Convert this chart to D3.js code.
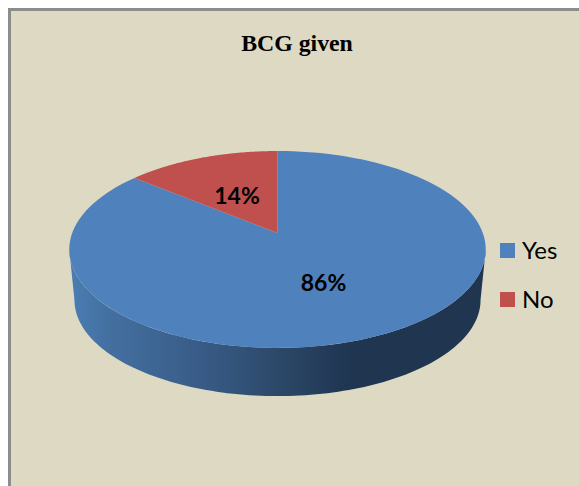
<!DOCTYPE html>
<html>
<head>
<meta charset="utf-8">
<script src="https://cdn.jsdelivr.net/npm/d3@7"></script>
<style>
  html, body { margin: 0; padding: 0; background: #fff; overflow: hidden; }
  svg { display: block; }
</style>
</head>
<body>
<svg></svg>
<script>
const categories = ["Yes", "No"];
const values = [86, 14];
const labels = ["86%", "14%"];
const title = "BCG given";

const svg = d3.select("svg").attr("width", 579).attr("height", 486);
const colors = d3.scaleOrdinal().domain(categories).range(["#4f81bd", "#c0504d"]);

// frame
svg.append("rect").attr("x", 9.5).attr("y", 9.5).attr("width", 600).attr("height", 500)
  .attr("fill", "#ddd9c3").attr("stroke", "#8c8c8c").attr("stroke-width", 3);

svg.append("text").text(title)
  .attr("x", 297).attr("y", 51).attr("text-anchor", "middle")
  .attr("font-family", "'Liberation Serif'").attr("font-weight", "bold").attr("font-size", 23.8)
  .attr("fill", "#000");

// the pie is tilted with perspective, so the centre is not the middle of the ellipse
const persp = -0.1675;
const project = (a, z = 0) => {
  const u = Math.sin(a), v = -Math.cos(a);
  const d = 1 + persp * v;
  const sx = z ? 0.975 : 1;
  return [277.5 + sx * 205.3 * u / d, 233 + z * 51 + sx * 95.7 * v / d];
};

const slices = d3.pie().sort(null).startAngle(0).endAngle(2 * Math.PI)(values);
const line = d3.line();
const sweep = (a0, a1, z) => d3.range(0, 121).map(i => project(a0 + (a1 - a0) * i / 120, z));

// side wall, from the right extreme round the bottom to the left extreme
const defs = svg.append("defs");
const grad = defs.append("linearGradient").attr("id", "wall")
  .attr("gradientUnits", "userSpaceOnUse").attr("x1", 70).attr("x2", 486).attr("y1", 0).attr("y2", 0);
[[0, "#4a7cb4"], [0.1, "#436f9f"], [0.3, "#395d89"], [0.5, "#2c4869"], [0.68, "#1f3550"], [1, "#1f3550"]]
  .forEach(s => grad.append("stop").attr("offset", s[0]).attr("stop-color", s[1]));

const aRight = Math.PI / 2 + Math.asin(0.1675), aLeft = 3 * Math.PI / 2 - Math.asin(0.1675);
const wallPts = sweep(aRight, aLeft, 0).concat(sweep(aLeft, aRight, 1));
svg.append("path").attr("d", line(wallPts) + "Z").attr("fill", "url(#wall)");

// top face
svg.append("g").selectAll("path").data(slices).enter().append("path")
  .attr("d", d => line([[277.5, 233]].concat(sweep(d.startAngle, d.endAngle, 0))) + "Z")
  .attr("fill", (d, i) => colors(categories[i]));

const labelPos = [[323.5, 291], [237, 204]];
svg.append("g").selectAll("text").data(labels).enter().append("text")
  .text(d => d)
  .attr("x", (d, i) => labelPos[i][0]).attr("y", (d, i) => labelPos[i][1])
  .attr("text-anchor", "middle")
  .attr("font-family", "Lato").attr("font-weight", "bold").attr("font-size", 23).attr("fill", "#000");

// legend
const legendY = d3.scalePoint().domain(categories).range([250.5, 299.5]);
const legend = svg.append("g").selectAll("g").data(categories).enter().append("g");
legend.append("rect").attr("x", 500).attr("y", d => legendY(d) - 7.5)
  .attr("width", 15).attr("height", 15).attr("fill", d => colors(d));
legend.append("text").text(d => d)
  .attr("x", 522).attr("y", d => legendY(d) + 8)
  .attr("font-family", "Lato").attr("font-size", 24).attr("fill", "#000");
</script>
</body>
</html>
